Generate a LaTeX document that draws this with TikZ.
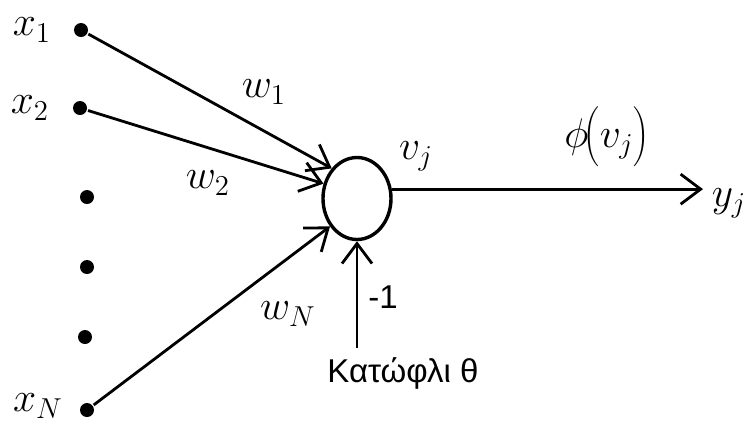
\documentclass[tikz,border=0pt]{standalone}
\usepackage{fontspec}
\newfontfamily\grfont{Liberation Sans}
\usepackage{tikz}
\usetikzlibrary{arrows.meta, shapes.geometric}

\begin{document}
\begin{tikzpicture}[x=0.5pt, y=-0.5pt, line width=1.4pt,
  dot/.style={circle, fill, inner sep=0pt, minimum size=7pt},
  lbl/.style={font=\fontsize{20}{24}\selectfont},
  sans/.style={font=\fontsize{16.5}{20}\selectfont\grfont},
  barb/.style={-{Straight Barb[length=10pt, width=15pt]}}]
  \useasboundingbox (0,0) rectangle (745,425);
  \node[dot] (x1) at (81,30) {};
  \node[dot] (x2) at (80,108) {};
  \node[dot] (d1) at (87,197) {};
  \node[dot] (d2) at (87,267) {};
  \node[dot] (d3) at (85,337) {};
  \node[dot] (xN) at (87,410) {};
  \node[lbl] (lx1) at (32,30) {$x_1$};
  \node[lbl] (lx2) at (30,108) {$x_2$};
  \node[lbl] (lxN) at (38,406) {$x_N$};
  \node[draw, ellipse, line width=1.7pt, inner sep=0pt, minimum width=34pt, minimum height=41pt] (n) at (357,198.5) {};
  \coordinate (thr) at (357,348);
  \coordinate (out) at (703,189);
  \draw[barb] (x1) -- (n.130);
  \draw[barb] (x2) -- (n.156);
  \draw[barb] (xN) -- (n.226);
  \draw[barb] (thr) -- (n.south);
  \draw[barb] (n.15) -- (n.15 -| out);
  \node[lbl] (w1) at (264,92) {$w_1$};
  \node[lbl] (w2) at (208,183) {$w_2$};
  \node[lbl] (wN) at (288,314) {$w_N$};
  \node[lbl] (vj) at (416,156) {$v_j$};
  \node[lbl] (phi) at (607,137) {$\phi\mkern-5mu\left(\rule[-8pt]{0pt}{28pt}v_j\right)$};
  \node[lbl] (yj) at (729,203) {$y_j$};
  \node[sans] (m1) at (383,297) {-1};
  \node[sans] (thrlbl) at (403,373) {Κατώφλι θ};
\end{tikzpicture}
\end{document}
